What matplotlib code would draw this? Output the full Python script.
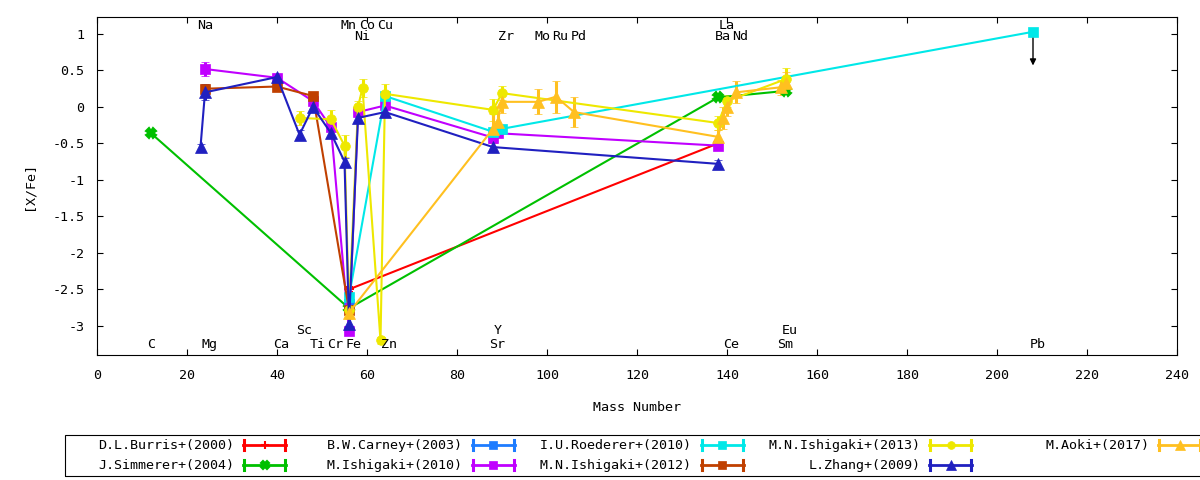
import matplotlib
matplotlib.use("Agg")
import matplotlib.pyplot as plt
from matplotlib.lines import Line2D
from matplotlib.patches import Rectangle
from matplotlib.ticker import MultipleLocator, FuncFormatter

plt.rcParams['font.family'] = ['DejaVu Sans Mono', 'DejaVu Sans']
plt.rcParams['font.size'] = 9.6
plt.rcParams['axes.unicode_minus'] = False

# abundance ratios [X/Fe] against mass number
burris_x = [56, 138]
burris_y = [-2.50, -0.50]
burris_e = [0.03, 0.03]

simmerer_x = [12, 56, 138, 153]
simmerer_y = [-0.36, -2.76, 0.13, 0.22]
simmerer_e = [0.03, 0.03, 0.03, 0.03]

carney_x = [56]
carney_y = [-2.70]
carney_e = [0.03]

ishigaki10_x = [24, 40, 48, 52, 56, 58, 64, 88, 89, 138]
ishigaki10_y = [0.52, 0.40, 0.08, -0.28, -3.07, -0.07, 0.02, -0.42, -0.36, -0.53]
ishigaki10_e = [0.10, 0.04, 0.04, 0.04, 0.05, 0.04, 0.04, 0.04, 0.04, 0.05]

roederer_x = [56, 64, 88, 90, 208]
roederer_y = [-2.60, 0.15, -0.34, -0.30, 1.03]
roederer_e = [0.03, 0.03, 0.03, 0.03, 0.0]

ishigaki12_x = [24, 40, 48, 56]
ishigaki12_y = [0.25, 0.28, 0.15, -2.78]
ishigaki12_e = [0.06, 0.05, 0.05, 0.04]

ishigaki13_x = [45, 52, 55, 56, 58, 59, 63, 64, 88, 90, 138, 140, 153]
ishigaki13_y = [-0.15, -0.17, -0.53, -2.78, 0.00, 0.26, -3.20, 0.18, -0.04, 0.19, -0.22, 0.08, 0.38]
ishigaki13_e = [0.10, 0.13, 0.15, 0.05, 0.08, 0.12, 0.05, 0.14, 0.15, 0.10, 0.10, 0.08, 0.16]

zhang_x = [23, 24, 40, 45, 48, 52, 55, 56, 58, 64, 88, 138]
zhang_y = [-0.55, 0.20, 0.41, -0.38, 0.00, -0.36, -0.75, -2.97, -0.15, -0.07, -0.55, -0.78]
zhang_e = [0.04, 0.11, 0.04, 0.06, 0.05, 0.06, 0.05, 0.08, 0.06, 0.05, 0.05, 0.05]

aoki_x = [56, 88, 89, 90, 98, 102, 106, 138, 139, 140, 142, 152, 153]
aoki_y = [-2.82, -0.30, -0.20, 0.07, 0.07, 0.14, -0.07, -0.41, -0.15, 0.00, 0.20, 0.27, 0.33]
aoki_e = [0.08, 0.20, 0.15, 0.15, 0.17, 0.22, 0.20, 0.10, 0.15, 0.12, 0.15, 0.10, 0.15]

# Pb upper limit (arrow end)
pb_limit_x = 208
pb_limit_to = 0.53

# element names along the top and bottom of the frame
elem_names = ['Na', 'Mn', 'Co', 'Cu', 'La',
              'Ni', 'Zr', 'Mo', 'Ru', 'Pd', 'Ba', 'Nd',
              'C', 'Mg', 'Ca', 'Ti', 'Cr', 'Fe', 'Zn', 'Sr', 'Ce', 'Sm', 'Pb',
              'Sc', 'Y', 'Eu']
elem_mass = [23, 55, 59, 63, 139,
             58, 90, 98, 102, 106, 138, 142,
             12, 24, 40, 48, 52, 56, 64, 88, 140, 152, 208,
             45, 89, 153]
elem_y = [1.11] * 5 + [0.96] * 7 + [-3.26] * 11 + [-3.06] * 3

series = [
    ('D.L.Burris+(2000)', burris_x, burris_y, burris_e, '#ff0000', '+', 7),
    ('J.Simmerer+(2004)', simmerer_x, simmerer_y, simmerer_e, '#00c000', 'X', 7),
    ('B.W.Carney+(2003)', carney_x, carney_y, carney_e, '#1e7cff', 's', 7),
    ('M.Ishigaki+(2010)', ishigaki10_x, ishigaki10_y, ishigaki10_e, '#c000ff', 's', 7),
    ('I.U.Roederer+(2010)', roederer_x, roederer_y, roederer_e, '#00e8e8', 's', 7),
    ('M.N.Ishigaki+(2012)', ishigaki12_x, ishigaki12_y, ishigaki12_e, '#c04000', 's', 7),
    ('M.N.Ishigaki+(2013)', ishigaki13_x, ishigaki13_y, ishigaki13_e, '#eee800', 'o', 7),
    ('L.Zhang+(2009)', zhang_x, zhang_y, zhang_e, '#2020c0', '^', 8.5),
    ('M.Aoki+(2017)', aoki_x, aoki_y, aoki_e, '#ffc020', '^', 8.5),
]

W, H = 1200, 480
fig = plt.figure(figsize=(12, 4.8), dpi=100)
ax = fig.add_axes([97 / W, 1 - 355 / H, 1080 / W, 338 / H])

for label, x, y, e, c, m, ms in series:
    ax.errorbar(x, y, yerr=e, color=c, marker=m, ms=ms, lw=1.5,
                elinewidth=2.2, capsize=3, capthick=2.2,
                mec=c, mew=1.5 if m in '+X' else 0.5)

ax.annotate('', xy=(pb_limit_x, pb_limit_to), xytext=(pb_limit_x, roederer_y[-1] - 0.05),
            arrowprops=dict(arrowstyle='-|>', color='black', lw=1, mutation_scale=9))

for name, mass, yy in zip(elem_names, elem_mass, elem_y):
    ax.text(mass - 0.8, yy, name, ha='left', va='center')

ax.set_xlim(0, 240)
ax.set_ylim(-3.4, 1.233)
ax.xaxis.set_major_locator(MultipleLocator(20))
ax.yaxis.set_major_locator(MultipleLocator(0.5))
ax.yaxis.set_major_formatter(FuncFormatter(lambda v, p: '%g' % v))
ax.tick_params(direction='in', length=4.5, width=0.8, top=True, right=True)
ax.tick_params(axis='x', pad=10)
ax.tick_params(axis='y', pad=9)
for s in ax.spines.values():
    s.set_linewidth(0.8)
ax.set_xlabel('Mass Number', labelpad=14)
ax.set_ylabel('[X/Fe]', labelpad=12)

# legend drawn like gnuplot's: text right-aligned, sample to its right
def fx(px):
    return px / W

def fy(py):
    return 1 - py / H

fig.add_artist(Rectangle((fx(65), fy(476)), fx(1150), (476 - 435) / H,
                         transform=fig.transFigure, fill=False, lw=0.8, ec='black'))
for k, (label, x, y, e, c, m, ms) in enumerate(series):
    col, row = k // 2, k % 2
    x0 = 243 + col * 228.75
    yy = 445 + row * 20
    fig.text(fx(x0 - 9), fy(yy), label, ha='right', va='center')
    fig.add_artist(Line2D([fx(x0), fx(x0 + 43)], [fy(yy), fy(yy)], color=c, lw=2,
                          transform=fig.transFigure))
    for xc in (x0 + 1, x0 + 42):
        fig.add_artist(Line2D([fx(xc), fx(xc)], [fy(yy - 5), fy(yy + 5)], color=c, lw=2.2,
                              transform=fig.transFigure))
    fig.add_artist(Line2D([fx(x0 + 21.5)], [fy(yy)], color=c, marker=m, ms=ms * 0.8,
                          mec=c, mew=1.5 if m in '+X' else 0.5, transform=fig.transFigure))

fig.savefig('out.png', dpi=100)
